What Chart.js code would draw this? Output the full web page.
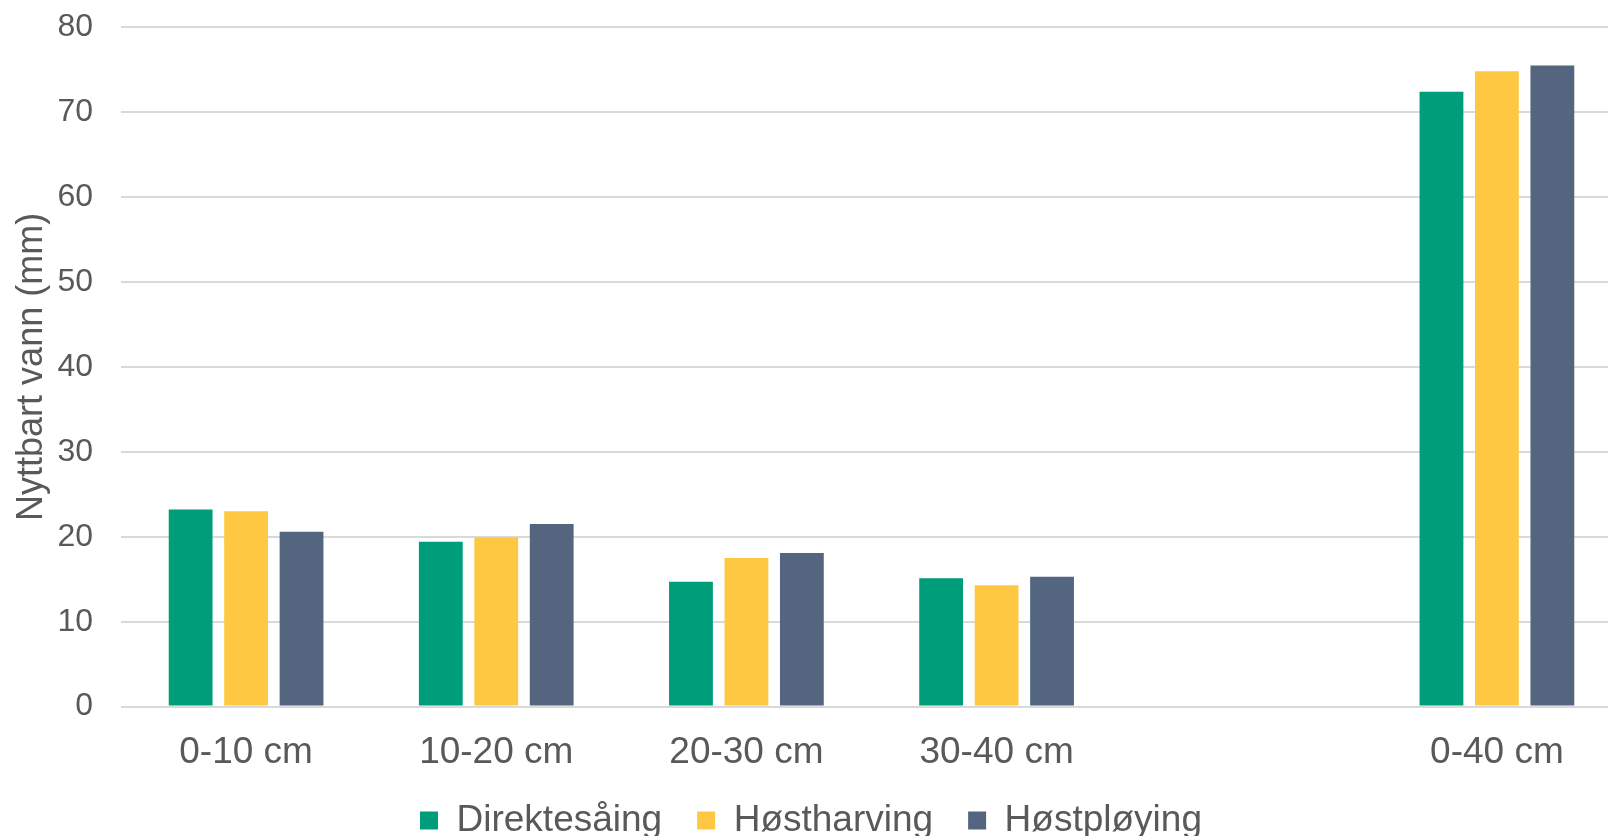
<!DOCTYPE html>
<html>
<head>
<meta charset="utf-8">
<title>Nyttbart vann</title>
<script src="https://cdn.jsdelivr.net/npm/chart.js@4/dist/chart.umd.min.js"></script>
<style>
  html, body { margin: 0; padding: 0; background: #fff; overflow: hidden; }
  #wrap { position: absolute; left: 0; top: -20px; width: 1630px; height: 869px; }
</style>
</head>
<body>
<div id="wrap"><canvas id="chart" width="1630" height="869"></canvas></div>
<script>
// categories (the blank one is the gap before the total)
const depths = ['0-10 cm', '10-20 cm', '20-30 cm', '30-40 cm', '', '0-40 cm'];

const direktesaing = [23.2, 19.4, 14.7, 15.1, null, 72.4];
const hostharving = [23.0, 19.9, 17.5, 14.3, null, 74.8];
const hostploying = [20.6, 21.5, 18.1, 15.3, null, 75.5];

const seriesNames = ['Direktesåing', 'Høstharving', 'Høstpløying'];
const seriesColors = ['#009D7B', '#FEC842', '#53657F'];

const yTicks = [0, 10, 20, 30, 40, 50, 60, 70, 80];

const textColor = '#595959';
const fontFamily = "'Liberation Sans', Arial, sans-serif";

const datasets = [direktesaing, hostharving, hostploying].map((data, i) => ({
  label: seriesNames[i],
  data: data,
  backgroundColor: seriesColors[i],
  borderWidth: 0,
  categoryPercentage: 0.665,
  barPercentage: 0.79
}));

new Chart(document.getElementById('chart'), {
  type: 'bar',
  data: { labels: depths, datasets },
  options: {
    responsive: false,
    animation: false,
    layout: { padding: { top: 10, right: 8, bottom: 0, left: 0 } },
    plugins: {
      tooltip: { enabled: false },
      legend: {
        position: 'bottom',
        labels: {
          color: textColor,
          font: { family: fontFamily, size: 37 },
          boxWidth: 18,
          boxHeight: 18,
          padding: 35
        }
      }
    },
    scales: {
      x: {
        grid: { display: false, drawTicks: false },
        border: { display: false },
        afterFit: scale => { scale.height -= 32; },
        ticks: {
          color: textColor,
          font: { family: fontFamily, size: 37 },
          padding: 24,
          maxRotation: 0
        }
      },
      y: {
        min: yTicks[0],
        max: yTicks[yTicks.length - 1],
        afterBuildTicks: scale => { scale.ticks = yTicks.map(v => ({ value: v })); },
        afterFit: scale => { scale.width = 121; },
        grid: { color: '#D9D9D9', lineWidth: 2, drawTicks: false },
        border: { display: false },
        ticks: {
          color: textColor,
          font: { family: fontFamily, size: 32 },
          padding: 28
        },
        title: {
          display: true,
          text: 'Nyttbart vann (mm)',
          color: textColor,
          font: { family: fontFamily, size: 36 },
          padding: { top: 10, bottom: 0 }
        }
      }
    }
  }
});
</script>
</body>
</html>
